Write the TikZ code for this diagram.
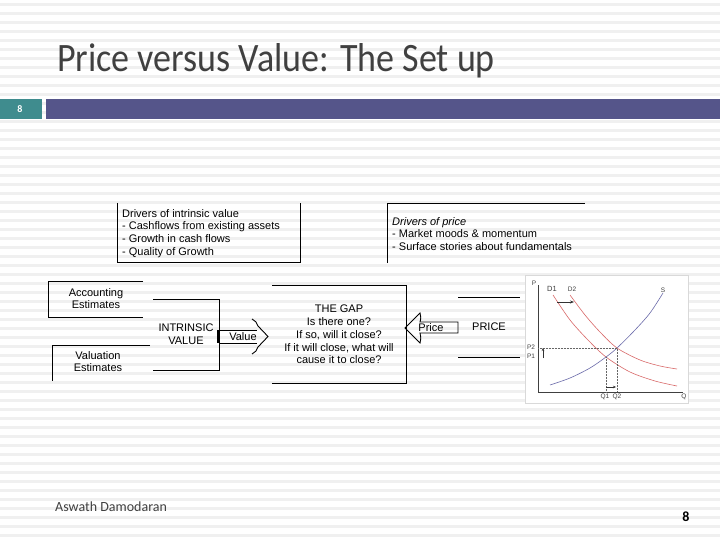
\documentclass[tikz,border=0pt]{standalone}
\usepackage{fontspec}
\setmainfont{Liberation Sans}
\newfontfamily\slidefont{Carlito}
\usepackage{tikz}
\usetikzlibrary{arrows.meta}
\usetikzlibrary{positioning}
\definecolor{titlegray}{HTML}{404040}
\definecolor{barblue}{HTML}{55558A}
\definecolor{barteal}{HTML}{3F8C8E}
\definecolor{stripegray}{HTML}{F0F0F0}
\definecolor{demandred}{HTML}{D96A6A}
\definecolor{supplyblue}{HTML}{6C6CAA}
\tikzset{boxtext/.style={font=\fontsize{11}{12.8}\selectfont, inner sep=0pt, align=center}}
\tikzset{boxline/.style={draw=black, line width=0.9pt}}
\tikzset{charttext/.style={font=\fontsize{6.5}{7}\selectfont, inner sep=0pt, text=black!75}}

\begin{document}
\begin{tikzpicture}[x=1pt, y=-1pt]
		\useasboundingbox (0,0) rectangle (720,540);
		\fill[white] (0,0) rectangle (720,540);
		\foreach \y in {3,12,...,540}
			\fill[stripegray] (0,\y) rectangle (720,{\y+3});
		\node[anchor=base west, inner sep=0pt, text=titlegray, font=\slidefont\fontsize{36}{40}\selectfont] (title) at (57,72) {\scalebox{1}[1.12]{Price versus Value: The Set up}};
		\fill[barteal] (0,99) rectangle (42,119);
		\fill[barblue] (46,99) rectangle (720,119);
		\node[text=white, inner sep=0pt, font=\slidefont\fontsize{10}{10}\selectfont\bfseries] (barnum) at (20,109) {8};
		\node[anchor=base west, inner sep=0pt, text=titlegray, font=\slidefont\fontsize{14}{16}\selectfont] (author) at (55,511) {Aswath Damodaran};
		\node[anchor=base, inner sep=0pt, font=\slidefont\fontsize{14}{16}\selectfont\bfseries] (pagenum) at (686,521) {8};

		\node[boxtext, align=left, anchor=north west] (intrdrivers) at (122,209) {Drivers of intrinsic value\\- Cashflows from existing assets\\- Growth in cash flows\\- Quality of Growth};
		\node[boxtext, align=left, anchor=north west] (pricedrivers) at (392,217) {\textit{Drivers of price}\\- Market moods \& momentum\\- Surface stories about fundamentals};
		\node[boxtext] (acct) at (96,298.5) {Accounting\\Estimates};
		\node[boxtext] (valuation) at (98,361.5) {Valuation\\Estimates};
		\node[boxtext] (intrinsic) at (186,334.5) {INTRINSIC\\VALUE};
		\node[boxtext] (gap) at (339,334.5) {THE GAP\\Is there one?\\If so, will it close?\\If it will close, what will\\cause it to close?};
		\node[boxtext] (price) at (489,327) {PRICE};
		\node[boxtext] (valuelabel) at (243,336.5) {Value};
		\node[boxtext] (pricelabel) at (431,328) {Price};

		\draw[boxline] (117,203) -- (117,262) -- (300,262) -- (300,203);
		\draw[boxline] (387,263) -- (387,203) -- (585,203);
		\draw[boxline] (143,281) -- (48,281) -- (48,317) -- (143,317);
		\draw[boxline] (150,345) -- (52,345) -- (52,381);
		\draw[boxline] (153,299) -- (219,299) -- (219,370) -- (153,370);
		\draw[boxline] (272,285) -- (406,285) -- (406,383) -- (272,383);
		\draw[boxline] (458,297) -- (520,297);
		\draw[boxline] (458,357) -- (520,357);

		\draw[boxline] (219,330) -- (257,330);
		\draw[boxline] (219,343) -- (257,343);
		\draw[boxline, line width=2pt] (218,330) -- (218,343);
		\draw[boxline] (252,319) .. controls (255,320) and (257,323) .. (258,326) -- (268,336.5) -- (258,347) .. controls (257,350) and (255,353) .. (252,354);
		\draw[boxline] (458,322) -- (420,322) .. controls (421,318) .. (420,313) -- (405,328) -- (420,343) .. controls (421,338) .. (420,333) -- (458,333) -- cycle;

		\fill[white] (525,275) rectangle (688,403);
		\draw[black!15] (525,275) rectangle (688,403);
		\draw[black!75, line width=0.6pt] (538,285) -- (538,392) -- (683,392);
		\draw[demandred, line width=0.6pt] plot[smooth] coordinates {(553,295) (570,320) (588,340) (606,357) (630,372) (655,381) (677,386)};
		\draw[demandred, line width=0.6pt] plot[smooth] coordinates {(570,295) (585,315) (600,332) (617,348) (640,360) (660,366) (677,369)};
		\draw[supplyblue, line width=0.6pt] plot[smooth] coordinates {(550,385) (570,378) (590,368) (606,357) (617,348) (635,330) (650,313) (663,293)};
		\draw[black!60, densely dotted, line width=0.5pt] (538,348) -- (617,348) -- (617,392);
		\draw[black!60, densely dotted, line width=0.5pt] (606,357) -- (606,392);
		\draw[black!80, line width=0.6pt, -{Stealth[length=4pt, width=3pt]}] (557,302) -- (574,302);
		\draw[black!80, line width=0.4pt, -{Stealth[length=3pt, width=2.5pt]}] (606,387) -- (616,387);
		\draw[black!80, line width=0.4pt, -{Stealth[length=3pt, width=2.5pt]}] (543,358) -- (543,348);
		\node[charttext] (plabel) at (534,283) {P};
		\node[charttext, font=\fontsize{7.5}{8}\selectfont] (d1label) at (552,289) {D1};
		\node[charttext] (d2label) at (572,289) {D2};
		\node[charttext] (slabel) at (663,290) {S};
		\node[charttext] (p2label) at (531,347) {P2};
		\node[charttext] (p1label) at (531,356) {P1};
		\node[charttext] (q1label) at (605,397) {Q1};
		\node[charttext] (q2label) at (617,397) {Q2};
		\node[charttext] (qlabel) at (684,397) {Q};
	\end{tikzpicture}
\end{document}
